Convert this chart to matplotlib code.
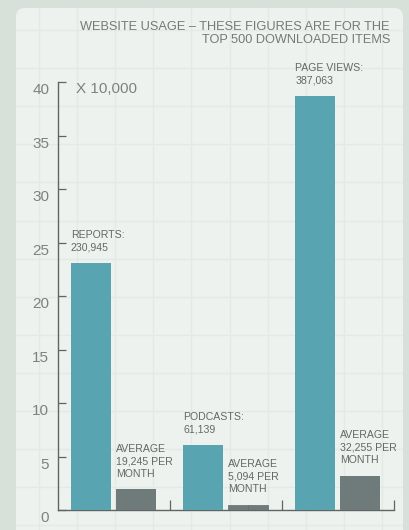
import matplotlib
matplotlib.use("Agg")
import matplotlib.pyplot as plt
import numpy as np
from matplotlib.patches import FancyBboxPatch
from matplotlib.lines import Line2D
from matplotlib.transforms import ScaledTranslation

# ---- data (counts of the top 500 downloaded items) ----
categories = ["REPORTS", "PODCASTS", "PAGE VIEWS"]
totals = [230945, 61139, 387063]
monthly_avg = [19245, 5094, 32255]
scale = 10000
yticks = [0, 5, 10, 15, 20, 25, 30, 35, 40]

# ---- colours ----
BG = "#d7e0d9"
CARD = "#edf2ee"
GRID = "#e3eae4"
TEAL = "#58a4b0"
SLATE = "#6f7b7a"
AXIS = "#5f6464"
TEXT = "#636868"

plt.rcParams["font.family"] = ["Liberation Sans", "DejaVu Sans"]

W, H = 409, 530
fig = plt.figure(figsize=(W / 100, H / 100), dpi=100, facecolor=BG)
px = fig.dpi_scale_trans  # inches -> work in px / 100

# card behind the chart
card = FancyBboxPatch((16 / 100, -0.2), (403 - 16) / 100, (H - 8) / 100 + 0.2,
                      boxstyle="round,pad=0,rounding_size=0.09",
                      transform=px, facecolor=CARD, edgecolor="none", zorder=-2)
fig.add_artist(card)

# faint squared-paper grid on the card
for gx in np.arange(39, 403, 38.1):
    ln = Line2D([gx / 100, gx / 100], [0, H / 100], transform=px, color=GRID, lw=1.0, zorder=-1)
    ln.set_clip_path(card)
    fig.add_artist(ln)
for gy in np.arange(30, H, 38.1):
    ln = Line2D([0, W / 100], [(H - gy) / 100, (H - gy) / 100], transform=px, color=GRID, lw=1.0, zorder=-1)
    ln.set_clip_path(card)
    fig.add_artist(ln)

# axes: x from 57.5px to 394px, y from 510px (0) to 82.3px (40)
ax = fig.add_axes([57.5 / W, (H - 510) / H, (394 - 57.5) / W, (510 - 82.3) / H])
ax.set_facecolor("none")
ax.set_xlim(0, 3)
ax.set_ylim(0, 40)

bw = 0.357
main_x = np.arange(3) + 0.298
avg_x = np.arange(3) + 0.699
main_h = np.array(totals) / scale
avg_h = np.array(monthly_avg) / scale

ax.bar(main_x, main_h, width=bw, color=TEAL, zorder=3)
for i, (x, h) in enumerate(zip(avg_x, avg_h)):
    if i == 1:
        # small podcast bar drawn as two halves
        half = bw / 2 - 0.005
        ax.bar([x - bw / 4, x + bw / 4], [h, h], width=half, color=SLATE,
               edgecolor="#5f6a6a", linewidth=0.5, zorder=3)
    else:
        ax.bar(x, h, width=bw, color=SLATE, zorder=3)

for i in range(3):
    ax.annotate(f"{categories[i]}:\n{totals[i]:,}", (main_x[i] - bw / 2, main_h[i]),
                xytext=(0, 7.5), textcoords="offset points", ha="left", va="bottom",
                fontsize=7.6, color=TEXT, linespacing=1.3)
    ax.annotate(f"AVERAGE\n{monthly_avg[i]:,} PER\nMONTH", (avg_x[i] - bw / 2, avg_h[i]),
                xytext=(0, 7.5), textcoords="offset points", ha="left", va="bottom",
                fontsize=7.6, color=TEXT, linespacing=1.3)

# spines and ticks
for s in ["top", "right"]:
    ax.spines[s].set_visible(False)
for s in ["left", "bottom"]:
    ax.spines[s].set_color(AXIS)
    ax.spines[s].set_linewidth(1.0)

ax.set_yticks(yticks)
ax.set_yticklabels([str(t) for t in yticks])
ax.tick_params(axis="y", direction="in", length=5.8, width=0.9, color=AXIS,
               labelsize=11, labelcolor="#7c8282", pad=6)
ax.set_xticks([1, 2, 3])
ax.set_xticklabels([])
ax.tick_params(axis="x", direction="in", length=7.2, width=0.9, color=AXIS)
for lab in ax.get_yticklabels():
    lab.set_transform(lab.get_transform() + ScaledTranslation(0, -6.5 / 100, fig.dpi_scale_trans))

ax.annotate("X 10,000", ((76 - 57.5) / (394 - 57.5), 40), xycoords=ax.get_yaxis_transform(),
            xytext=(0, -4.5), textcoords="offset points", fontsize=11, color="#7c8282",
            ha="left", va="center")

fig.text(390 / W, 1 - 20.5 / H, "WEBSITE USAGE – THESE FIGURES ARE FOR THE\nTOP 500 DOWNLOADED ITEMS",
         ha="right", va="top", multialignment="right", fontsize=9.2,
         color="#747a7a", linespacing=1.2)

fig.savefig("out.png", dpi=100, facecolor=BG)
